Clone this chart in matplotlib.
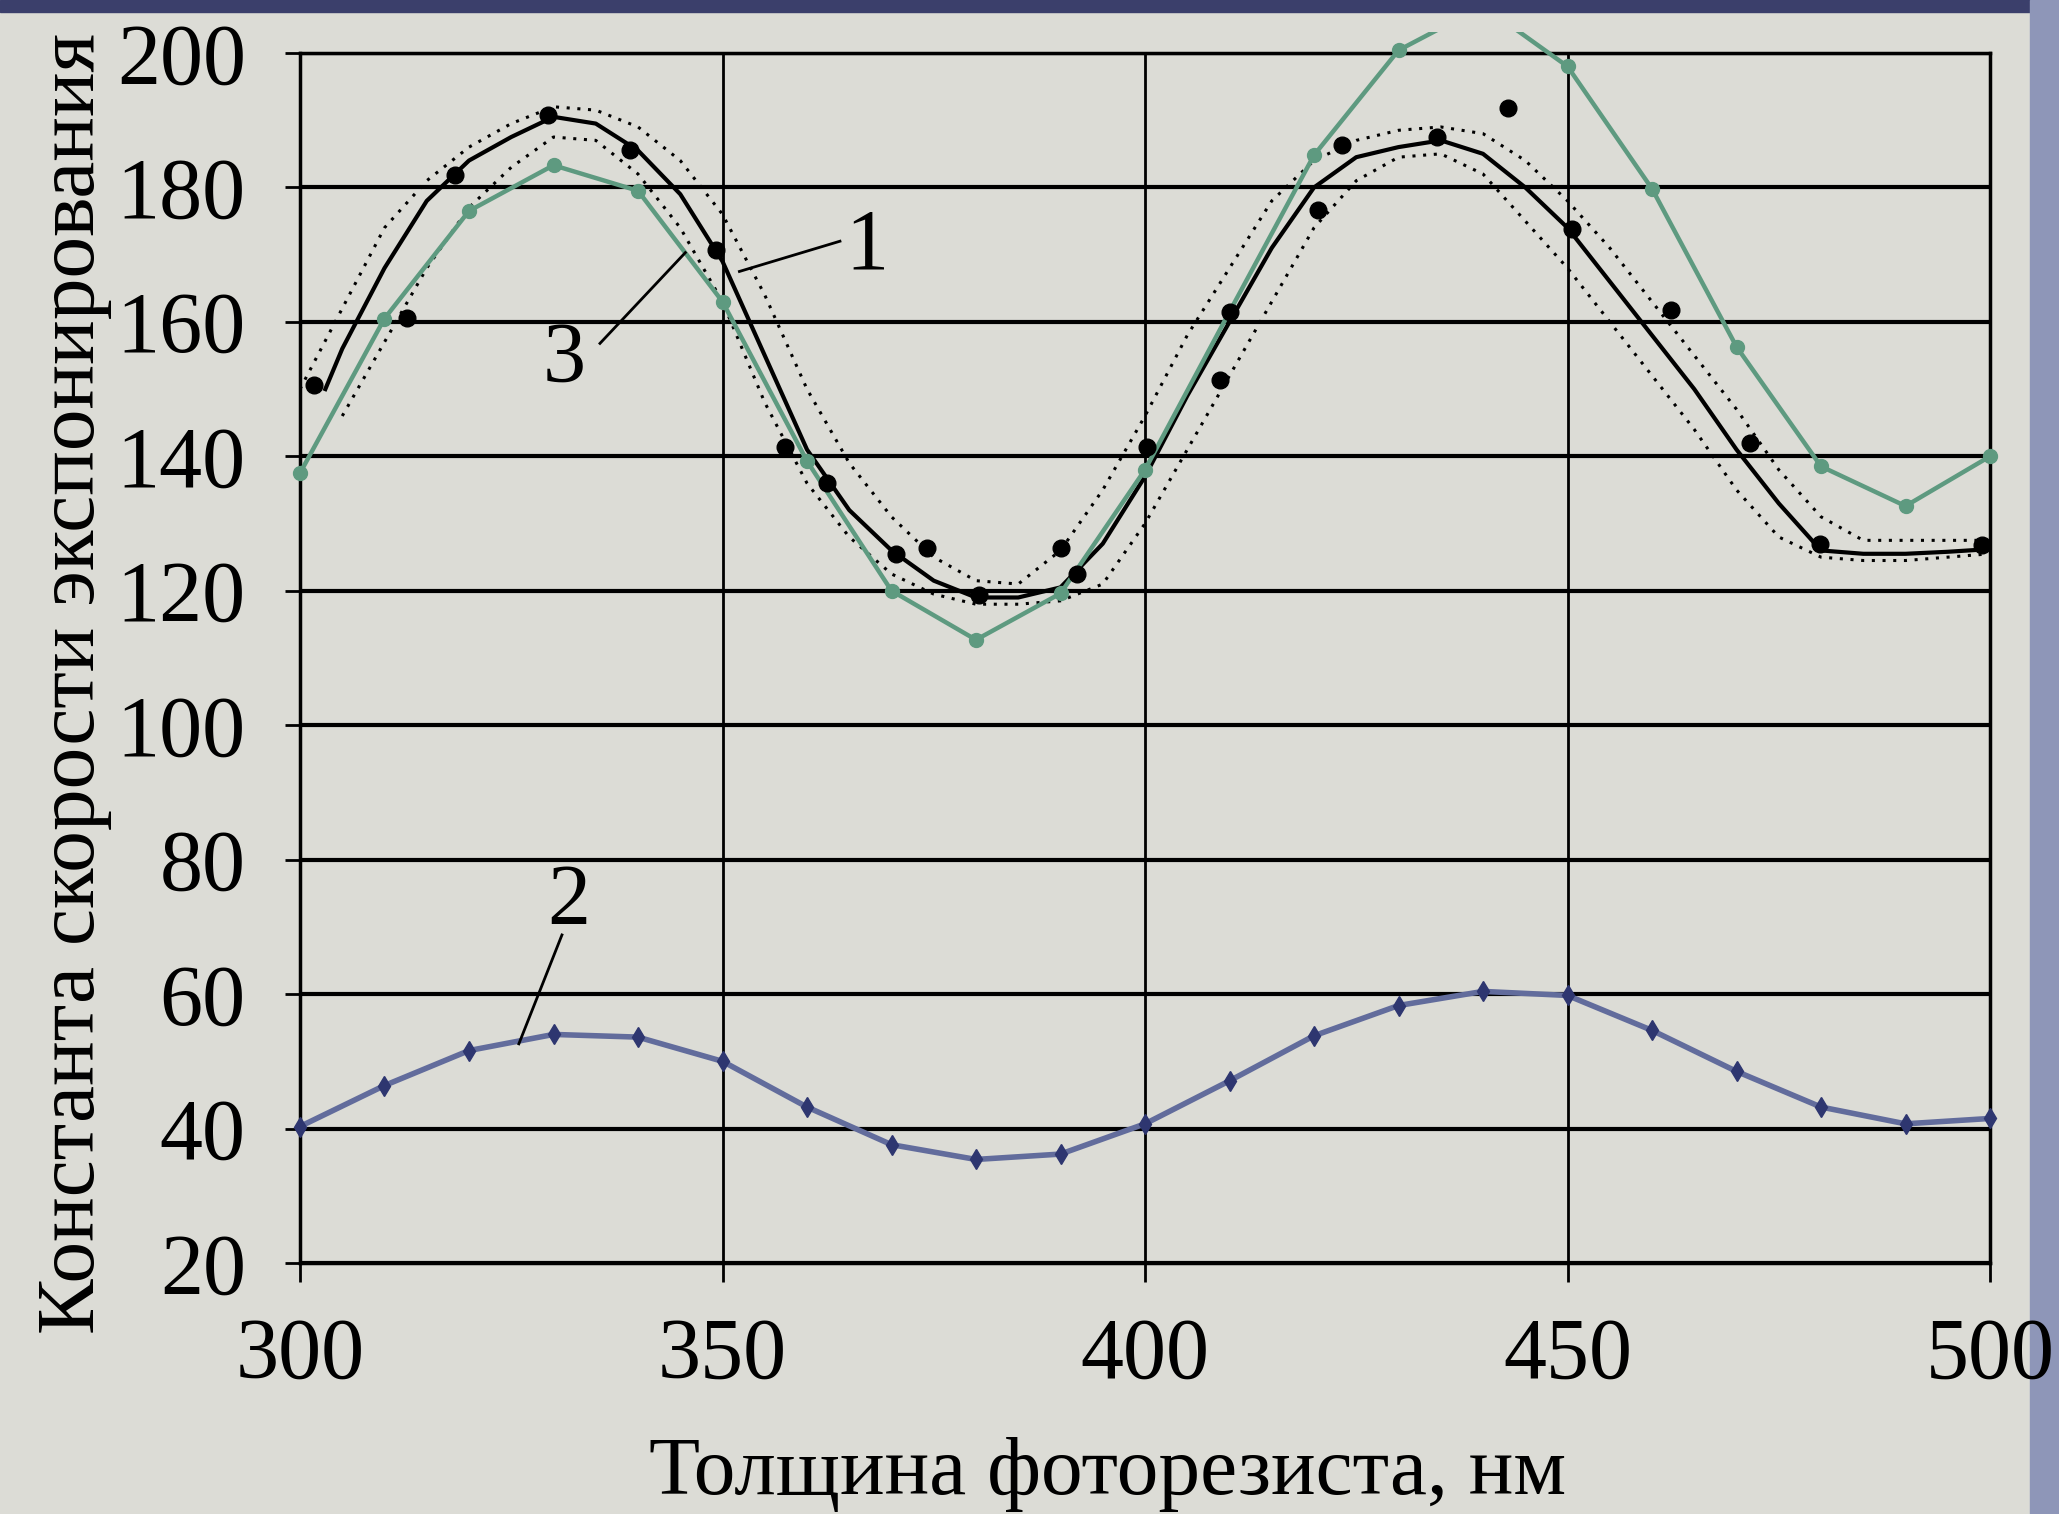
import matplotlib
matplotlib.use("Agg")
import matplotlib.pyplot as plt
from matplotlib.patches import Rectangle

plt.rcParams["font.family"] = ["Liberation Serif", "DejaVu Serif"]

# curve 2 and curve 3: computed values every 10 nm
thickness = [300, 310, 320, 330, 340, 350, 360, 370, 380, 390, 400,
             410, 420, 430, 440, 450, 460, 470, 480, 490, 500]
curve2 = [40.3, 46.4, 51.6, 54.0, 53.6, 50.0, 43.2, 37.6, 35.4, 36.2, 40.7,
          47.1, 53.8, 58.3, 60.4, 59.8, 54.6, 48.5, 43.2, 40.7, 41.5]
curve3 = [137.5, 160.5, 176.5, 183.3, 179.5, 163.0, 139.3, 120.0, 112.7, 119.6, 138.0,
          161.5, 184.8, 200.4, 207.0, 198.0, 179.8, 156.3, 138.5, 132.6, 140.0]

# experimental points
exp_x = [301.6, 312.7, 318.3, 329.3, 339.1, 349.2, 357.4, 362.4, 370.5, 374.2,
         380.3, 390.1, 391.9, 400.2, 408.9, 410.1, 420.5, 423.3, 434.6, 443.0,
         450.5, 462.3, 471.6, 479.9, 499.0]
exp_y = [150.6, 160.6, 181.9, 190.8, 185.6, 170.7, 141.4, 136.0, 125.4, 126.4,
         119.4, 126.4, 122.5, 141.4, 151.4, 161.5, 176.6, 186.3, 187.5, 191.8,
         173.8, 161.7, 142.0, 127.0, 126.8]

# curve 1 (fit) and its confidence band
fit_x = [303, 305, 310, 315, 320, 325, 330, 335, 340, 345, 350, 355, 360, 365, 370,
         375, 380, 385, 390, 395, 400, 405, 410, 415, 420, 425, 430, 435, 440, 445,
         450, 455, 460, 465, 470, 475, 480, 485, 490, 495, 500]
fit_y = [150.0, 156.0, 168.0, 178.0, 184.0, 187.5, 190.5, 189.5, 185.5, 179.0, 169.0,
         155.0, 141.0, 132.0, 126.0, 121.5, 119.0, 119.0, 120.5, 127.0, 137.0, 149.0,
         160.0, 171.0, 180.0, 184.5, 186.0, 187.0, 185.0, 180.0, 174.0, 166.0, 158.0,
         150.0, 141.0, 133.0, 126.0, 125.5, 125.5, 125.8, 126.2]

band_x = [300, 305, 310, 315, 320, 325, 330, 335, 340, 345, 350, 355, 360, 365, 370,
          375, 380, 385, 390, 395, 400, 405, 410, 415, 420, 425, 430, 435, 440, 445,
          450, 455, 460, 465, 470, 475, 480, 485, 490, 495, 500]
band_hi = [150.0, 162.0, 174.0, 181.0, 186.0, 189.5, 192.0, 191.5, 189.0, 184.0, 176.0,
           164.0, 150.0, 139.0, 131.0, 125.0, 121.5, 121.0, 126.0, 135.0, 146.0, 158.0,
           168.0, 178.0, 184.0, 187.0, 188.5, 189.0, 188.0, 184.0, 178.0, 171.0, 163.0,
           155.0, 147.0, 138.0, 131.0, 127.5, 127.5, 127.5, 127.5]
band_lo_x = band_x[1:]
band_lo = [146.0, 157.0, 168.0, 177.0, 183.0, 187.5, 187.0, 182.0, 174.0, 163.0,
           148.0, 136.0, 128.0, 122.5, 119.5, 118.0, 118.0, 118.5, 121.0, 130.0, 141.0,
           152.0, 163.0, 174.0, 181.0, 184.5, 185.0, 182.0, 175.0, 168.0, 160.0, 152.0,
           144.0, 135.0, 128.0, 125.0, 124.5, 124.5, 125.0, 125.5]

xticks = [300, 350, 400, 450, 500]
yticks = [20, 40, 60, 80, 100, 120, 140, 160, 180, 200]

bg = "#dcdcd6"
fig = plt.figure(figsize=(20.59, 15.14), dpi=100, facecolor=bg)
ax = fig.add_axes([0.1457, 0.1658, 0.8208, 0.7992])
ax.set_facecolor(bg)

# the original plot area is clipped a little above the 200 line
clip = Rectangle((-0.03, -0.03), 1.06, 1.047, transform=ax.transAxes,
                 facecolor="none", edgecolor="none")
ax.add_patch(clip)

ax.plot(band_x, band_hi, color="black", lw=2.2, ls=(0, (1, 2.5)), zorder=3)
ax.plot(band_lo_x, band_lo, color="black", lw=2.2, ls=(0, (1, 2.5)), zorder=3)
ax.plot(fit_x, fit_y, color="black", lw=3, zorder=4)
ax.plot(exp_x, exp_y, "o", color="black", ms=12, zorder=5, clip_on=False)
green, = ax.plot(thickness, curve3, color="#5e9a80", lw=3.2, marker="o", ms=10,
                 zorder=4)
green.set_clip_path(clip)
ax.plot(thickness, curve2, color="#626c9c", lw=4, marker="d", ms=10,
        mfc="#2e3670", mec="#2e3670", zorder=4, clip_on=False)

# curve labels with leader lines
ax.plot([352.0, 363.9], [167.5, 172.0], color="black", lw=2, zorder=6)
ax.text(364.5, 171, "1", fontsize=62, ha="left", va="center")
ax.plot([335.5, 345.6], [156.8, 170.3], color="black", lw=2, zorder=6)
ax.text(331.3, 154.2, "3", fontsize=62, ha="center", va="center")
ax.plot([331.0, 325.9], [68.8, 52.6], color="black", lw=2, zorder=6)
ax.text(331.8, 73.5, "2", fontsize=62, ha="center", va="center")

ax.set_xlim(300, 500)
ax.set_ylim(20, 200)
ax.set_xticks(xticks)
ax.set_yticks(yticks)
ax.yaxis.grid(True, color="black", lw=3)
ax.xaxis.grid(True, color="black", lw=2)
ax.set_axisbelow(True)
for s in ax.spines.values():
    s.set_linewidth(2.5)
ax.tick_params(axis="y", length=11, width=2, pad=28, labelsize=62)
ax.tick_params(axis="x", length=14, width=2, pad=25, labelsize=62)

ax.set_xlabel("Толщина фоторезиста, нм", fontsize=60)
ax.xaxis.set_label_coords(0.478, -0.143)
ax.set_ylabel("Константа скорости экспонирования", fontsize=60)
ax.yaxis.set_label_coords(-0.111, 0.479)

# photo edges
fig.patches.append(Rectangle((0, 0.992), 1, 0.008, transform=fig.transFigure,
                             color="#3b3f6b", zorder=-1))
fig.patches.append(Rectangle((0.986, 0), 0.014, 1, transform=fig.transFigure,
                             color="#8e96b8", zorder=-1))

fig.savefig("out.png", dpi=100, facecolor=bg)
